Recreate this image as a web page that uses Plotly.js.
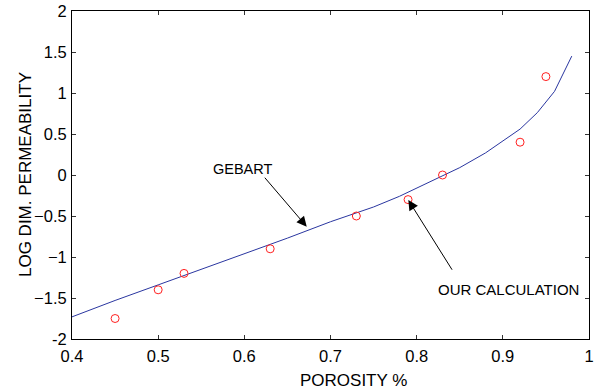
<!DOCTYPE html>
<html>
<head>
<meta charset="utf-8">
<script src="https://cdn.plot.ly/plotly-3.0.1.min.js"></script>
<style>html,body{margin:0;padding:0;background:#fff;}#chart{width:594px;height:390px;}</style>
</head>
<body>
<div id="chart"></div>
<script>
// Gebart curve
const gebartX = [0.40, 0.45, 0.50, 0.55, 0.60, 0.65, 0.70, 0.75, 0.78, 0.80, 0.83, 0.85, 0.88, 0.90, 0.92, 0.94, 0.96, 0.98];
const gebartY = [-1.73, -1.53, -1.34, -1.15, -0.96, -0.77, -0.57, -0.39, -0.26, -0.16, -0.01, 0.09, 0.27, 0.41, 0.56, 0.76, 1.02, 1.45];
// Our calculation (circles)
const calcX = [0.45, 0.50, 0.53, 0.63, 0.73, 0.79, 0.83, 0.92, 0.95];
const calcY = [-1.75, -1.40, -1.20, -0.90, -0.50, -0.30, 0.00, 0.40, 1.20];
// Axis ticks
const xTicks = [0.4, 0.5, 0.6, 0.7, 0.8, 0.9, 1];
const xTickText = ['0.4', '0.5', '0.6', '0.7', '0.8', '0.9', '1'];
const yTicks = [-2, -1.5, -1, -0.5, 0, 0.5, 1, 1.5, 2];
const yTickText = ['-2', '\u22121.5', '\u22121', '\u22120.5', '0', '0.5', '1', '1.5', '2'];
const labelGebart = 'GEBART';
const labelCalc = 'OUR CALCULATION';
const xTitle = 'POROSITY %';
const yTitle = 'LOG DIM. PERMEABILITY';

const FONT = 'Liberation Sans, Arial, sans-serif';

const traces = [
  {x: gebartX, y: gebartY, mode: 'lines', type: 'scatter',
   line: {color: '#2a36a0', width: 1}, hoverinfo: 'skip'},
  {x: calcX, y: calcY, mode: 'markers', type: 'scatter',
   marker: {symbol: 'circle-open', size: 8, color: '#ff2020', line: {width: 1, color: '#ff2020'}}, hoverinfo: 'skip'}
];

const axisCommon = {
  showgrid: false, zeroline: false, showline: true, linecolor: '#000', linewidth: 1,
  mirror: 'ticks', ticks: 'inside', ticklen: 4, tickcolor: '#333', tickwidth: 1,
  tickfont: {family: FONT, size: 16.5, color: '#000'}, tickmode: 'array'
};

const layout = {
  width: 594, height: 390,
  margin: {l: 72, r: 5, t: 11, b: 51},
  paper_bgcolor: '#fff', plot_bgcolor: '#fff',
  showlegend: false,
  font: {family: FONT, color: '#000'},
  xaxis: Object.assign({}, axisCommon, {range: [0.4, 1], tickvals: xTicks, ticktext: xTickText, ticklabelstandoff: 2}),
  yaxis: Object.assign({}, axisCommon, {range: [-2, 2], tickvals: yTicks, ticktext: yTickText, ticklabelstandoff: 1}),
  annotations: [
    {xref: 'paper', yref: 'paper', x: (353 - 72) / 517, y: -(380 - 339) / 328, text: xTitle, showarrow: false,
     xanchor: 'center', yanchor: 'middle', font: {family: FONT, size: 17, color: '#000'}},
    {xref: 'paper', yref: 'paper', x: (25 - 72) / 517, y: 0.5, text: yTitle, showarrow: false, textangle: -90,
     xanchor: 'center', yanchor: 'middle', font: {family: FONT, size: 17, color: '#000'}},
    {xref: 'x', yref: 'y', x: 0.4 + (242.7 - 72) / 861.7, y: 2 - (169 - 11) / 82, text: labelGebart, showarrow: false,
     xanchor: 'center', yanchor: 'middle', font: {family: FONT, size: 14.5, color: '#000'}},
    {xref: 'x', yref: 'y', x: 0.4 + (508.5 - 72) / 861.7, y: 2 - (289 - 11) / 82, text: labelCalc, showarrow: false,
     xanchor: 'center', yanchor: 'middle', font: {family: FONT, size: 15, color: '#000'}},
    {xref: 'x', yref: 'y', x: 0.6724, y: -0.630, ax: -43.4, ay: -50.7, text: ' ', showarrow: true,
     arrowhead: 2, arrowsize: 2, arrowwidth: 1, arrowcolor: '#000', font: {size: 1}, standoff: 0, startstandoff: 0},
    {xref: 'x', yref: 'y', x: 0.7903, y: -0.305, ax: 45, ay: 71.7, text: ' ', showarrow: true,
     arrowhead: 2, arrowsize: 2, arrowwidth: 1, arrowcolor: '#000', font: {size: 1}, standoff: 0, startstandoff: 0}
  ]
};

Plotly.newPlot('chart', traces, layout, {staticPlot: true, displayModeBar: false});
</script>
</body>
</html>
